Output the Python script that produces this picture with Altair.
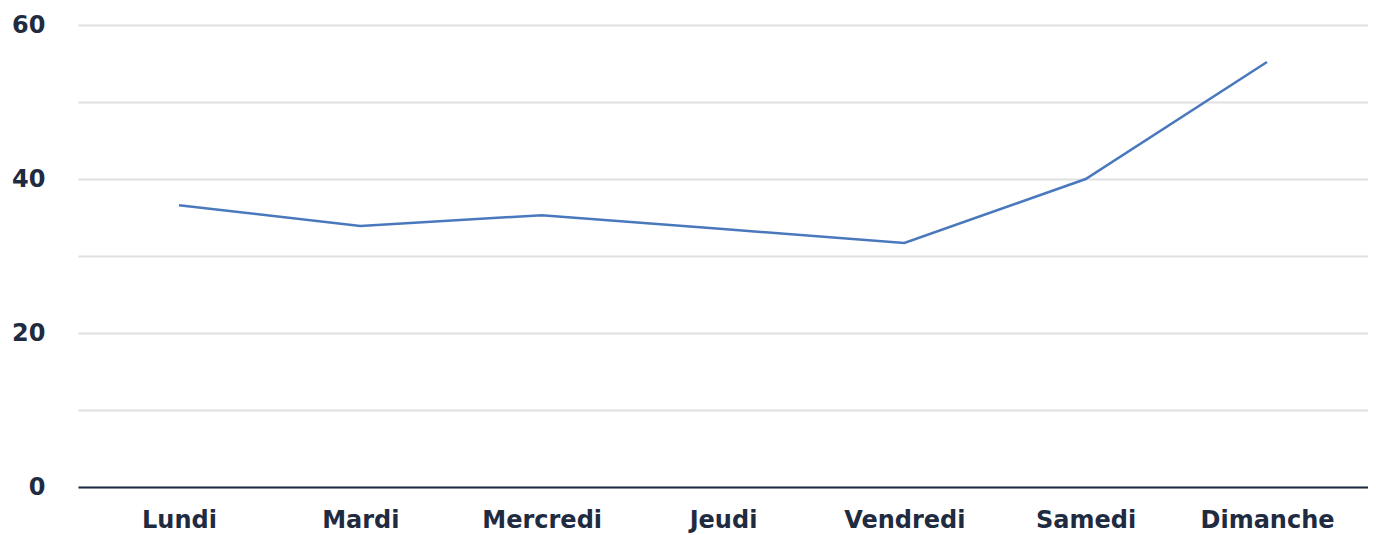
import altair as alt
import pandas as pd

days = ["Lundi", "Mardi", "Mercredi", "Jeudi", "Vendredi", "Samedi", "Dimanche"]
values = [36.6, 33.9, 35.3, 33.5, 31.7, 40.0, 55.2]
y_ticks = [0, 10, 20, 30, 40, 50, 60]

df = pd.DataFrame({"day": days, "value": values})

FONT = "DejaVu Sans"
TEXT = "#1f2b40"

chart = alt.Chart(df).mark_line(color="#4a78bd", strokeWidth=2.5).encode(
    x=alt.X("day:N", sort=days, title=None,
            scale=alt.Scale(type="point", padding=0.557),
            axis=alt.Axis(labelAngle=0, ticks=False, grid=False,
                          domainColor=TEXT, domainWidth=2,
                          labelFont=FONT, labelFontSize=24, labelFontWeight="bold",
                          labelColor=TEXT, labelPadding=21)),
    y=alt.Y("value:Q", title=None,
            scale=alt.Scale(domain=[0, 60], nice=False),
            axis=alt.Axis(values=y_ticks, ticks=False, domain=False,
                          labelExpr="datum.value % 20 == 0 ? datum.label : ''",
                          gridColor="#e0e0e0", gridWidth=2,
                          labelFont=FONT, labelFontSize=24, labelFontWeight="bold",
                          labelColor=TEXT, labelPadding=33)),
).properties(
    width=1290, height=462,
    autosize=alt.AutoSizeParams(type="none"),
    padding={"left": 70, "top": 17, "right": 0, "bottom": 48},
).configure_view(stroke=None)

chart.save("out.html", embed_options={"renderer": "svg", "actions": False})
